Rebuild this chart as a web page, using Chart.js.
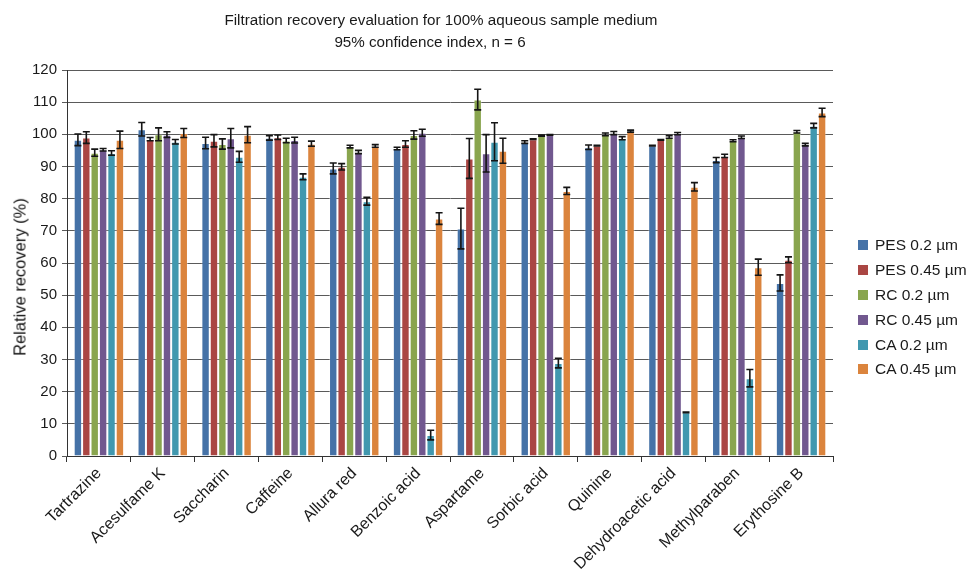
<!DOCTYPE html>
<html>
<head>
<meta charset="utf-8">
<script src="https://cdn.jsdelivr.net/npm/chart.js@4.4.1/dist/chart.umd.min.js"></script>
<style>
  html, body { margin: 0; padding: 0; background: #fff; }
  #wrap { position: relative; width: 971px; height: 576px; font-family: 'Liberation Sans', Arial, sans-serif; color: #1a1a1a; }
  #chartBox { position: absolute; left: 0; top: 0; width: 880px; height: 576px; }
  .tline { position: absolute; width: 600px; text-align: center; line-height: 22px; white-space: nowrap; font-size: 15.2px; }
  #yTitle { position: absolute; left: 20px; top: 277px; transform: translate(-50%, -50%) rotate(-90deg); font-size: 16.5px; white-space: nowrap; color: #111; }
  #legend { position: absolute; left: 858px; top: 233px; font-size: 15.5px; }
  #legend .item { display: flex; align-items: center; height: 24.8px; white-space: nowrap; }
  #legend .sw { width: 10px; height: 10px; margin-right: 7px; flex: none; }
</style>
</head>
<body>
<div id="wrap">
  <div id="chartBox"><canvas id="c"></canvas></div>
  <div id="title"></div>
  <div id="yTitle"></div>
  <div id="legend"></div>
</div>
<script>
// Compounds tested
const categories = ['Tartrazine', 'Acesulfame K', 'Saccharin', 'Caffeine', 'Allura red', 'Benzoic acid',
  'Aspartame', 'Sorbic acid', 'Quinine', 'Dehydroacetic acid', 'Methylparaben', 'Erythosine B'];

// Filter types
const seriesNames = ['PES 0.2 \u00b5m', 'PES 0.45 \u00b5m', 'RC 0.2 \u00b5m', 'RC 0.45 \u00b5m', 'CA 0.2 \u00b5m', 'CA 0.45 \u00b5m'];

// Mean relative recovery (%) per filter
const pes02 = [98.3, 101.6, 97.3, 98.9, 89.4, 95.6, 70.7, 97.6, 96.0, 96.5, 92.0, 53.8];
const pes045 = [99.0, 98.5, 98.0, 99.1, 89.9, 97.0, 92.5, 98.5, 96.5, 98.3, 93.3, 61.0];
const rc02 = [94.3, 100.0, 97.0, 98.1, 96.2, 99.8, 110.8, 99.6, 100.0, 99.2, 98.0, 100.8];
const rc045 = [95.2, 99.9, 98.8, 98.2, 94.5, 100.5, 94.1, 99.8, 100.4, 100.2, 99.1, 96.8];
const ca02 = [94.2, 97.7, 93.0, 86.8, 79.2, 6.5, 97.7, 28.9, 98.8, 13.6, 24.2, 102.7];
const ca045 = [98.3, 100.4, 99.9, 97.1, 96.4, 73.8, 94.9, 82.4, 101.0, 83.7, 58.7, 106.8];

// 95% confidence half-widths (n = 6)
const pes02Err = [1.8, 2.1, 1.8, 0.7, 1.7, 0.4, 6.3, 0.4, 0.7, 0.1, 0.8, 2.5];
const pes045Err = [1.8, 0.5, 1.9, 0.7, 1.0, 1.0, 6.2, 0.1, 0.1, 0.1, 0.5, 0.9];
const rc02Err = [1.1, 2.0, 1.6, 0.7, 0.4, 1.3, 3.2, 0.2, 0.4, 0.4, 0.3, 0.4];
const rc045Err = [0.4, 0.9, 3.0, 0.9, 0.5, 1.1, 5.8, 0.1, 0.5, 0.35, 0.4, 0.4];
const ca02Err = [0.7, 0.7, 1.7, 0.9, 1.2, 1.5, 5.9, 1.5, 0.5, 0.1, 2.7, 0.7];
const ca045Err = [2.7, 1.4, 2.5, 0.8, 0.4, 1.8, 3.9, 1.1, 0.3, 1.3, 2.5, 1.3];

// Y axis ticks
const yTicks = [0, 10, 20, 30, 40, 50, 60, 70, 80, 90, 100, 110, 120];

const titleLines = ['Filtration recovery evaluation for 100% aqueous sample medium', '95% confidence index, n = 6'];
const yTitle = 'Relative recovery (%)';

const colors = ['#4572A7', '#AA4643', '#89A54E', '#71588F', '#4198AF', '#DB843D'];
const values = [pes02, pes045, rc02, rc045, ca02, ca045];
const errors = [pes02Err, pes045Err, rc02Err, rc045Err, ca02Err, ca045Err];

const FONT = "'Liberation Sans', Arial, sans-serif";

const datasets = values.map((v, i) => ({
  label: seriesNames[i],
  data: v,
  errors: errors[i],
  backgroundColor: colors[i],
  borderColor: 'rgba(255,255,255,0.35)',
  borderWidth: 1,
  categoryPercentage: 0.79,
  barPercentage: 1.0
}));

// Draws the confidence-interval whiskers on top of each bar
const errorBars = {
  id: 'errorBars',
  afterDatasetsDraw(chart) {
    const ctx = chart.ctx;
    const yScale = chart.scales.y;
    ctx.save();
    ctx.strokeStyle = '#151515';
    ctx.lineWidth = 1.6;
    chart.data.datasets.forEach((ds, di) => {
      const meta = chart.getDatasetMeta(di);
      meta.data.forEach((bar, j) => {
        const v = ds.data[j], e = ds.errors[j];
        const x = bar.x;
        const yt = yScale.getPixelForValue(v + e);
        const yb = yScale.getPixelForValue(v - e);
        const cap = 3.5;
        ctx.beginPath();
        ctx.moveTo(x, yt); ctx.lineTo(x, yb);
        ctx.moveTo(x - cap, yt); ctx.lineTo(x + cap, yt);
        ctx.moveTo(x - cap, yb); ctx.lineTo(x + cap, yb);
        ctx.stroke();
      });
    });
    ctx.restore();
  }
};

new Chart(document.getElementById('c'), {
  type: 'bar',
  data: { labels: categories, datasets },
  options: {
    responsive: true,
    maintainAspectRatio: false,
    animation: false,
    layout: { padding: { left: 0, right: 47, top: 70, bottom: 0 } },
    plugins: {
      legend: { display: false },
      tooltip: { enabled: false },
      title: { display: false }
    },
    scales: {
      x: {
        offset: true,
        grid: { offset: true, drawOnChartArea: false, drawTicks: true, tickLength: 6, color: '#333', lineWidth: 1 },
        border: { color: '#333', width: 1 },
        ticks: { color: '#1a1a1a', font: { family: FONT, size: 16 }, minRotation: 45, maxRotation: 45, padding: 2, autoSkip: false },
        afterFit(scale) { scale.height = 120; }
      },
      y: {
        min: 0, max: 120,
        afterBuildTicks(scale) { scale.ticks = yTicks.map(v => ({ value: v })); },
        grid: { color: '#5a5a5a', lineWidth: 1, drawTicks: true, tickLength: 5 },
        border: { color: '#333', width: 1 },
        ticks: { color: '#1a1a1a', font: { family: FONT, size: 15 }, padding: 5 },
        title: { display: false },
        afterFit(scale) { scale.width = 67; }
      }
    }
  },
  plugins: [errorBars]
});

// Two-line heading above the plot
const titleEl = document.getElementById('title');
const titleCenters = [441, 430];
const titleTops = [9, 31];
titleLines.forEach((line, i) => {
  const d = document.createElement('div');
  d.className = 'tline';
  d.textContent = line;
  d.style.left = (titleCenters[i] - 300) + 'px';
  d.style.top = titleTops[i] + 'px';
  titleEl.appendChild(d);
});

// Vertical axis caption
document.getElementById('yTitle').textContent = yTitle;

// Legend built from the same series names and colours
const legendEl = document.getElementById('legend');
seriesNames.forEach((name, i) => {
  const item = document.createElement('div');
  item.className = 'item';
  const sw = document.createElement('span');
  sw.className = 'sw';
  sw.style.background = colors[i];
  const txt = document.createElement('span');
  txt.textContent = name;
  item.appendChild(sw);
  item.appendChild(txt);
  legendEl.appendChild(item);
});
</script>
</body>
</html>
